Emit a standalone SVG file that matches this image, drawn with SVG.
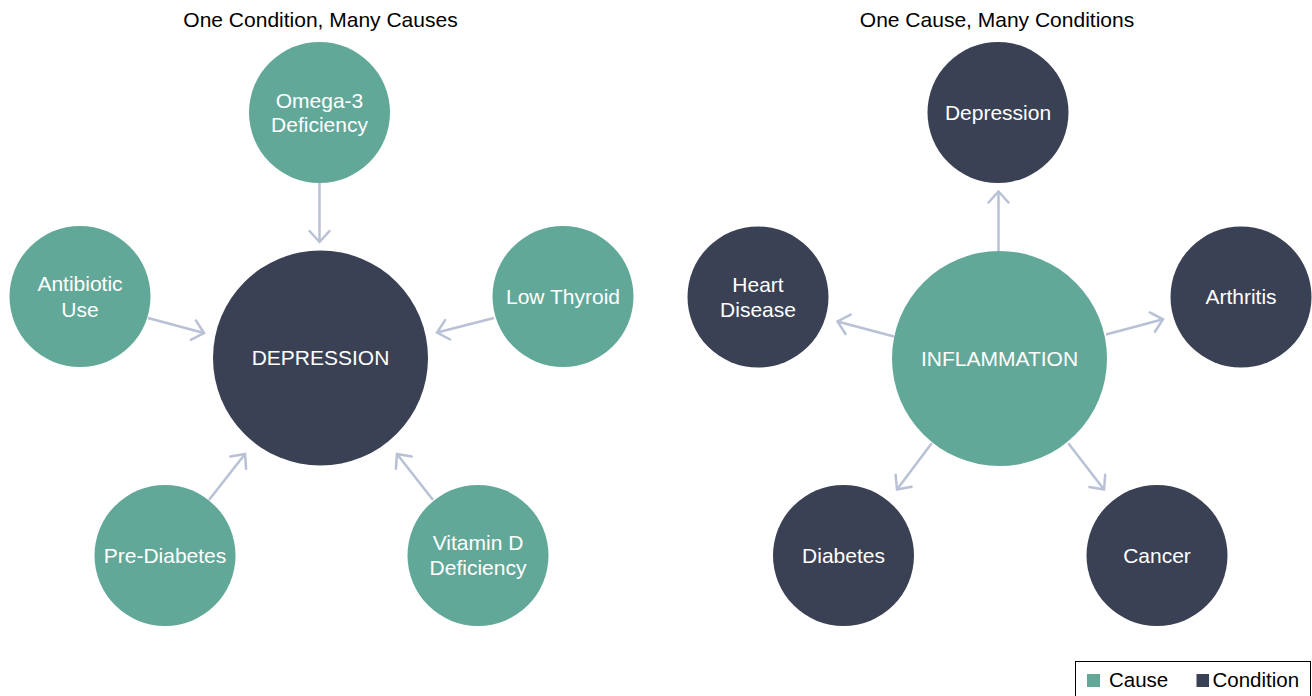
<svg xmlns="http://www.w3.org/2000/svg" width="1312" height="696" viewBox="0 0 1312 696">
  <defs>
    <marker id="arrow" markerUnits="userSpaceOnUse" markerWidth="30" markerHeight="30" viewBox="-15 -15 30 30" refX="0" refY="0" orient="auto">
      <path d="M-11,-10 L0,0 L-11,10" fill="none" stroke="#b8c1d5" stroke-width="2.5" stroke-linecap="round" stroke-linejoin="miter"/>
    </marker>
    <style>
      text { font-family: "Liberation Sans", Arial, Helvetica, sans-serif; }
      .title { font-size: 21px; fill: #000000; text-anchor: middle; }
      .label { font-size: 21px; fill: #ffffff; text-anchor: middle; }
      .cause { fill: #62a899; }
      .condition { fill: #3b4154; }
      .conn { stroke: #b8c1d5; stroke-width: 2.5; fill: none; marker-end: url(#arrow); }
      .legend-text { font-size: 20.5px; fill: #000000; }
    </style>
  </defs>
  <rect x="0" y="0" width="1312" height="696" fill="#ffffff"/>

  <text class="title" x="320.5" y="26.5">One Condition, Many Causes</text>
  <text class="title" x="997" y="26.5">One Cause, Many Conditions</text>

  <g id="connectors">
    <line class="conn" x1="319.5" y1="183" x2="319.5" y2="242"/>
    <line class="conn" x1="148" y1="318" x2="204" y2="333"/>
    <line class="conn" x1="494" y1="318" x2="437" y2="332.5"/>
    <line class="conn" x1="209" y1="500" x2="245" y2="454"/>
    <line class="conn" x1="433" y1="500" x2="397" y2="454"/>
    <line class="conn" x1="998.5" y1="251" x2="998.5" y2="191.5"/>
    <line class="conn" x1="894" y1="336.5" x2="837.5" y2="321.5"/>
    <line class="conn" x1="1106" y1="334.5" x2="1163" y2="319.3"/>
    <line class="conn" x1="931.7" y1="443.3" x2="897" y2="489.5"/>
    <line class="conn" x1="1068.3" y1="443.3" x2="1104" y2="489.5"/>
  </g>

  <g id="node-depression-center">
    <circle class="condition" cx="320.5" cy="358" r="107.5"/>
    <text class="label" x="320.5" y="365">DEPRESSION</text>
  </g>
  <g id="node-omega3">
    <circle class="cause" cx="319.5" cy="112.5" r="70.5"/>
    <text class="label" x="319.5" y="107.5">Omega-3</text>
    <text class="label" x="319.5" y="132">Deficiency</text>
  </g>
  <g id="node-antibiotic">
    <circle class="cause" cx="80" cy="296.5" r="70.5"/>
    <text class="label" x="80" y="291">Antibiotic</text>
    <text class="label" x="80" y="316.5">Use</text>
  </g>
  <g id="node-lowthyroid">
    <circle class="cause" cx="563" cy="296.5" r="70.5"/>
    <text class="label" x="563" y="304">Low Thyroid</text>
  </g>
  <g id="node-prediabetes">
    <circle class="cause" cx="165" cy="555.5" r="70.5"/>
    <text class="label" x="165" y="563">Pre-Diabetes</text>
  </g>
  <g id="node-vitamind">
    <circle class="cause" cx="478" cy="555.5" r="70.5"/>
    <text class="label" x="478" y="550">Vitamin D</text>
    <text class="label" x="478" y="575">Deficiency</text>
  </g>

  <g id="node-inflammation">
    <circle class="cause" cx="999.5" cy="358.5" r="107.5"/>
    <text class="label" x="999.5" y="365.5">INFLAMMATION</text>
  </g>
  <g id="node-depression">
    <circle class="condition" cx="998" cy="112.5" r="70.5"/>
    <text class="label" x="998" y="120">Depression</text>
  </g>
  <g id="node-heart">
    <circle class="condition" cx="758" cy="297" r="70.5"/>
    <text class="label" x="758" y="291.5">Heart</text>
    <text class="label" x="758" y="316.5">Disease</text>
  </g>
  <g id="node-arthritis">
    <circle class="condition" cx="1241" cy="297" r="70.5"/>
    <text class="label" x="1241" y="304">Arthritis</text>
  </g>
  <g id="node-diabetes">
    <circle class="condition" cx="843.5" cy="555.5" r="70.5"/>
    <text class="label" x="843.5" y="563">Diabetes</text>
  </g>
  <g id="node-cancer">
    <circle class="condition" cx="1157" cy="555.5" r="70.5"/>
    <text class="label" x="1157" y="563">Cancer</text>
  </g>

  <g id="legend">
    <rect x="1075.5" y="661.5" width="235" height="40" fill="#ffffff" stroke="#000000" stroke-width="1"/>
    <rect class="cause" x="1087" y="674" width="13" height="13"/>
    <text class="legend-text" x="1109" y="687">Cause</text>
    <rect class="condition" x="1196.5" y="674" width="12.5" height="13"/>
    <text class="legend-text" x="1212.5" y="687">Condition</text>
  </g>
</svg>
